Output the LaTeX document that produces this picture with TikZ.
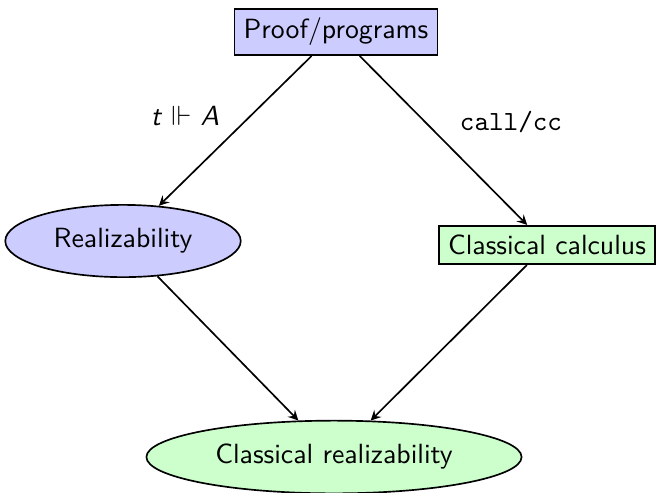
\documentclass[tikz,border=0pt]{standalone}
\usepackage{amssymb}
\usetikzlibrary{shapes.geometric,arrows}
\renewcommand{\familydefault}{\sfdefault}
\begin{document}
\begin{tikzpicture}[x=0.36pt,y=-0.36pt,>=stealth,semithick,
  bluebox/.style={draw,rectangle,fill=blue!20},
  greenbox/.style={draw,rectangle,fill=green!20},
  blueell/.style={draw,ellipse,fill=blue!20,inner xsep=5pt,inner ysep=4.7pt},
  greenell/.style={draw,ellipse,fill=green!20,inner xsep=5pt,inner ysep=4.7pt},
  lbl/.style={inner sep=0pt},
  conn/.style={->}]
\useasboundingbox (0,0) rectangle (659,492);
\node[bluebox] (pp) at (336,32) {Proof/programs};
\node[blueell] (re) at (123,241) {Realizability};
\node[greenbox] (cc) at (547,245) {Classical calculus};
\node[greenell] (cr) at (334,457) {Classical realizability};
\node[lbl] (l1) at (185,116) {\textit{t}~$\Vdash$~\textit{A}};
\node[lbl] (l2) at (511,122) {\texttt{call/cc}};
\draw[conn] (pp) -- (re);
\draw[conn] (pp) -- (cc);
\draw[conn] (re) -- (cr);
\draw[conn] (cc) -- (cr);
\end{tikzpicture}
\end{document}
